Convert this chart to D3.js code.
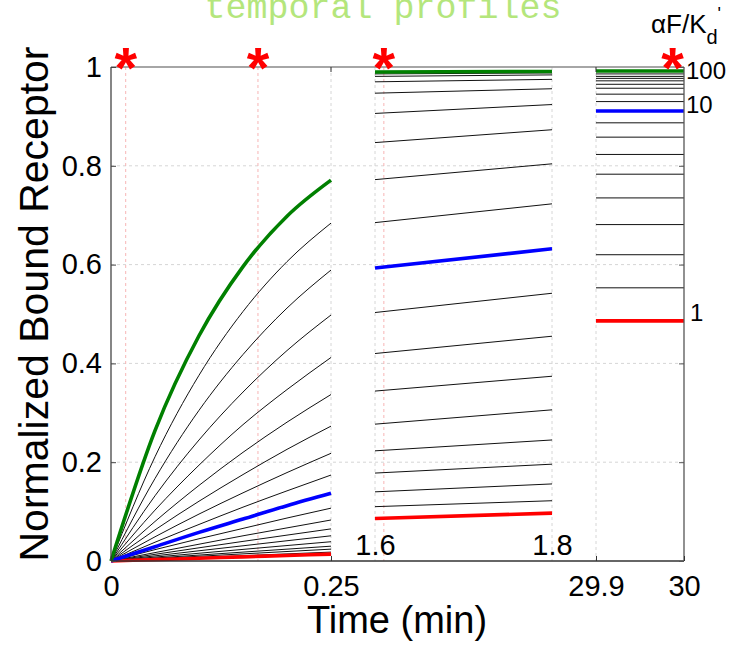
<!DOCTYPE html>
<html><head><meta charset="utf-8">
<script src="https://cdn.jsdelivr.net/npm/d3@7"></script>
<style>body{margin:0;background:#fff} svg{display:block}</style>
</head><body><svg id="c" width="729" height="649"></svg>
<script>
// ---- data ----
const p1Times = [0, 0.05, 0.10, 0.15, 0.20, 0.25];
const p1Values = [
  [0, 0.264, 0.456, 0.596, 0.698, 0.771],
  [0, 0.211, 0.376, 0.505, 0.606, 0.684],
  [0, 0.167, 0.305, 0.418, 0.512, 0.589],
  [0, 0.132, 0.245, 0.342, 0.426, 0.498],
  [0, 0.103, 0.194, 0.276, 0.347, 0.412],
  [0, 0.080, 0.153, 0.220, 0.281, 0.337],
  [0, 0.063, 0.121, 0.175, 0.226, 0.273],
  [0, 0.049, 0.095, 0.138, 0.179, 0.218],
  [0, 0.038, 0.074, 0.109, 0.142, 0.174],
  [0, 0.029, 0.058, 0.085, 0.112, 0.137],
  [0, 0.023, 0.045, 0.066, 0.087, 0.107],
  [0, 0.017, 0.034, 0.051, 0.067, 0.083],
  [0, 0.0135, 0.0267, 0.0397, 0.0524, 0.065],
  [0, 0.0104, 0.0207, 0.0308, 0.0410, 0.051],
  [0, 0.0079, 0.0157, 0.0235, 0.0313, 0.039],
  [0, 0.0060, 0.0120, 0.0180, 0.0240, 0.030],
  [0, 0.0048, 0.0096, 0.0144, 0.0192, 0.024],
  [0, 0.0036, 0.0072, 0.0108, 0.0144, 0.018],
  [0, 0.0028, 0.0056, 0.0084, 0.0112, 0.014]
];
const p2Times = [1.6, 1.8];
const p2Values = [
  [0.990, 0.991], [0.986, 0.988], [0.981, 0.984], [0.970, 0.975], [0.947, 0.956],
  [0.906, 0.924], [0.847, 0.873], [0.772, 0.804], [0.685, 0.723], [0.593, 0.632],
  [0.503, 0.542], [0.420, 0.455], [0.344, 0.374], [0.277, 0.306], [0.223, 0.245],
  [0.178, 0.196], [0.140, 0.156], [0.110, 0.122], [0.086, 0.097]
];
const p3Times = [29.9, 30];
const p3Values = [
  [0.992, 0.992], [0.986, 0.986], [0.981, 0.981], [0.977, 0.977], [0.972, 0.972],
  [0.965, 0.965], [0.957, 0.957], [0.945, 0.945], [0.930, 0.930], [0.911, 0.911],
  [0.887, 0.887], [0.858, 0.858], [0.823, 0.823], [0.783, 0.783], [0.735, 0.735],
  [0.681, 0.681], [0.620, 0.620], [0.553, 0.553], [0.486, 0.486]
];
const highlightIndex = [0, 9, 18];          // aF/Kd = 100, 10, 1
const highlightLabels = ["100", "10", "1"];
const starTimes = [0.0167, 0.167, 1.61, 29.987];
const starPanels = [0, 0, 1, 2];
const yTicks = [0, 0.2, 0.4, 0.6, 0.8, 1];
const xTicksP1 = [0, 0.25];
const xTicksP2 = [1.6, 1.8];
const xTicksP3 = [29.9, 30];

// ---- layout ----
const svg = d3.select("#c");
const L = 111, R = 684, T = 67, B = 561;
const y = d3.scaleLinear().domain([0, 1]).range([B, T]);
const x1 = d3.scaleLinear().domain([0, 0.25]).range([111, 331]);
const x2 = d3.scaleLinear().domain([1.6, 1.8]).range([375, 552]);
const x3 = d3.scaleLinear().domain([29.9, 30]).range([596, 684]);
const xs = [x1, x2, x3];
const colors = ["#008000", "#0000ff", "#ff0000"];
const SANS = "'Liberation Sans', Arial, Helvetica, sans-serif";

// title
svg.append("text").attr("x", 383).attr("y", 18).attr("text-anchor", "middle")
  .attr("font-family", "'Liberation Mono', 'Courier New', monospace")
  .attr("font-size", 35).attr("fill", "#b4e67c").text("temporal profiles");

// grid
const grid = svg.append("g").attr("stroke", "#d6d6d6").attr("stroke-width", 1).attr("stroke-dasharray", "3,3");
yTicks.filter(d => d > 0 && d < 1).forEach(d => {
  grid.append("line").attr("x1", L).attr("x2", R).attr("y1", y(d)).attr("y2", y(d));
});
[x1(0.25), x2(1.6), x2(1.8), x3(29.9)].forEach(xv => {
  grid.append("line").attr("x1", xv).attr("x2", xv).attr("y1", T).attr("y2", B);
});
// star marker lines
const starG = svg.append("g");
starTimes.forEach((t, i) => {
  const xv = xs[starPanels[i]](t);
  if (t < 29.9) {
    starG.append("line").attr("x1", xv).attr("x2", xv).attr("y1", T).attr("y2", B)
      .attr("stroke", "#f7b5b5").attr("stroke-width", 1).attr("stroke-dasharray", "3,3");
  }
});

// curves
const panels = [
  {x: x1, times: p1Times, vals: p1Values, curve: d3.curveMonotoneX},
  {x: x2, times: p2Times, vals: p2Values, curve: d3.curveLinear},
  {x: x3, times: p3Times, vals: p3Values, curve: d3.curveLinear}
];
const lineG = svg.append("g").attr("fill", "none");
panels.forEach(p => {
  const gen = d3.line().x((d, i) => p.x(p.times[i])).y(d => y(d)).curve(p.curve);
  p.vals.forEach((v, k) => {
    if (highlightIndex.includes(k)) return;
    lineG.append("path").attr("d", gen(v)).attr("stroke", "#111").attr("stroke-width", 1);
  });
});
panels.forEach(p => {
  const gen = d3.line().x((d, i) => p.x(p.times[i])).y(d => y(d)).curve(p.curve);
  [2, 1, 0].forEach(h => {
    lineG.append("path").attr("d", gen(p.vals[highlightIndex[h]]))
      .attr("stroke", colors[h]).attr("stroke-width", 3.6);
  });
});

// frame
const frame = svg.append("g").attr("fill", "none");
frame.append("line").attr("x1", L).attr("x2", R).attr("y1", T).attr("y2", T).attr("stroke", "#888").attr("stroke-width", 1.3);
frame.append("line").attr("x1", L).attr("x2", R).attr("y1", B).attr("y2", B).attr("stroke", "#333").attr("stroke-width", 1.3);
frame.append("line").attr("x1", L).attr("x2", L).attr("y1", T).attr("y2", B).attr("stroke", "#444").attr("stroke-width", 1.3);
frame.append("line").attr("x1", R).attr("x2", R).attr("y1", T).attr("y2", B).attr("stroke", "#555").attr("stroke-width", 1.3);

// y axis
const yAx = svg.append("g").attr("transform", `translate(${L},0)`)
  .call(d3.axisLeft(y).tickValues(yTicks).tickSize(-5).tickPadding(9).tickFormat(d => d));
yAx.select(".domain").remove();
yAx.selectAll("line").attr("stroke", "#444");
yAx.selectAll("text").attr("font-family", SANS).attr("font-size", 29).attr("fill", "#000");
// right ticks
const yAxR = svg.append("g").attr("transform", `translate(${R},0)`)
  .call(d3.axisRight(y).tickValues(yTicks).tickSize(-5).tickFormat(""));
yAxR.select(".domain").remove();
yAxR.selectAll("line").attr("stroke", "#555");

// x axes
function bottomAxis(scale, ticks, ty, size, pad) {
  const g = svg.append("g").attr("transform", `translate(0,${ty})`)
    .call(d3.axisBottom(scale).tickValues(ticks).tickSize(size).tickPadding(pad).tickFormat(d => d));
  g.select(".domain").remove();
  g.selectAll("line").attr("stroke", "#333");
  g.selectAll("text").attr("font-family", SANS).attr("font-size", 29).attr("fill", "#000");
  return g;
}
bottomAxis(x1, xTicksP1, B, -5, 14);
bottomAxis(x3, xTicksP3, B, -5, 14);
bottomAxis(x2, xTicksP2, 530, 0, 4);
// top ticks
[x1(0.25), x3(29.9)].forEach(xv => {
  svg.append("line").attr("x1", xv).attr("x2", xv).attr("y1", T).attr("y2", T + 5).attr("stroke", "#333");
});

// stars
starTimes.forEach((t, i) => {
  svg.append("text").attr("x", xs[starPanels[i]](t)).attr("y", 88)
    .attr("text-anchor", "middle").attr("font-family", SANS).attr("font-weight", "bold")
    .attr("font-size", 58).attr("fill", "#ff0000").text("*");
});

// right labels
const labOff = [0, -6, -8];
highlightIndex.forEach((k, h) => {
  svg.append("text").attr("x", h === 2 ? 690 : 686).attr("y", y(p3Values[k][1]) + labOff[h])
    .attr("dominant-baseline", "central").attr("font-family", SANS).attr("font-size", 24)
    .attr("fill", "#000").text(highlightLabels[h]);
});
const kd = svg.append("text").attr("x", 651).attr("y", 33).attr("font-family", SANS).attr("font-size", 26).attr("fill", "#000");
kd.append("tspan").text("\u03b1F/K");
kd.append("tspan").attr("dy", 11).attr("font-size", 20).text("d");
kd.append("tspan").attr("dy", -24).attr("font-size", 18).text("'");

// axis titles
svg.append("text").attr("x", 397).attr("y", 633).attr("text-anchor", "middle")
  .attr("font-family", SANS).attr("font-size", 38).attr("fill", "#000").text("Time (min)");
svg.append("text").attr("transform", "translate(48,304) rotate(-90)").attr("text-anchor", "middle")
  .attr("font-family", SANS).attr("font-size", 41).attr("fill", "#000").text("Normalized Bound Receptor");
</script>
</body></html>
